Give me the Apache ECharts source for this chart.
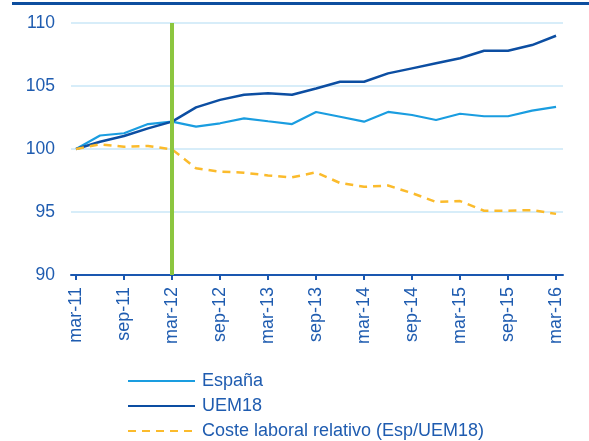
<!DOCTYPE html>
<html>
<head>
<meta charset="utf-8">
<script src="https://cdn.jsdelivr.net/npm/echarts@6/dist/echarts.min.js"></script>
<style>
  html, body { margin: 0; padding: 0; background: #fff; }
  #chart { width: 589px; height: 441px; }
</style>
</head>
<body>
<div id="chart"></div>
<script>
const quarters = [
  "mar-11", "jun-11", "sep-11", "dic-11", "mar-12", "jun-12", "sep-12", "dic-12",
  "mar-13", "jun-13", "sep-13", "dic-13", "mar-14", "jun-14", "sep-14", "dic-14",
  "mar-15", "jun-15", "sep-15", "dic-15", "mar-16",
];
const tickIndexes = [0, 2, 4, 6, 8, 10, 12, 14, 16, 18, 20];

const espana = [
  100, 101.07, 101.25, 101.98, 102.17, 101.77, 102.04, 102.43, 102.2, 101.98,
  102.94, 102.56, 102.17, 102.94, 102.7, 102.3, 102.8, 102.6, 102.6, 103.04, 103.35,
];
const uem18 = [
  100, 100.58, 101.03, 101.64, 102.17, 103.3, 103.9, 104.3, 104.42, 104.3,
  104.8, 105.34, 105.34, 106.0, 106.4, 106.8, 107.2, 107.8, 107.8, 108.25, 108.99,
];
const costeRelativo = [
  100, 100.37, 100.18, 100.24, 99.97, 98.47, 98.2, 98.12, 97.9, 97.75,
  98.15, 97.3, 97.0, 97.1, 96.5, 95.8, 95.87, 95.1, 95.1, 95.15, 94.85,
];
const markerQuarter = 4; // mar-12

const textBlue = "#1f5cb0";
const font = "Liberation Sans, Arial, sans-serif";

const toPairs = (arr) => arr.map((v, i) => [i, v]);

const chart = echarts.init(document.getElementById("chart"));

const options = {
  animation: false,
  textStyle: { fontFamily: font },
  graphic: [
    {
      type: "line",
      shape: { x1: 12, y1: 3.5, x2: 589, y2: 3.5 },
      style: { stroke: "#0d4e9f", lineWidth: 3 },
    },
  ],
  grid: {
    left: 71,
    width: 492,
    top: 23,
    bottom: 166,
    containLabel: false,
  },
  legend: {
    orient: "vertical",
    left: 127,
    top: 372,
    padding: 0,
    itemWidth: 67,
    itemHeight: 17,
    itemGap: 7,
    itemStyle: { opacity: 0 },
    textStyle: { color: textBlue, fontSize: 18, fontFamily: font, padding: [0, 0, 0, 2] },
    data: ["España", "UEM18", "Coste laboral relativo (Esp/UEM18)"],
  },
  xAxis: {
    type: "value",
    min: -0.21,
    max: 20.29,
    splitLine: { show: false },
    axisLine: { lineStyle: { color: "#1a57b0", width: 2 } },
    axisTick: {
      customValues: tickIndexes,
      length: 5,
      lineStyle: { color: "#1a57b0", width: 2 },
    },
    axisLabel: {
      customValues: tickIndexes,
      rotate: 90,
      margin: 12,
      color: textBlue,
      fontSize: 18,
      fontFamily: font,
      formatter: (v) => quarters[v],
    },
  },
  yAxis: {
    type: "value",
    min: 90,
    max: 110,
    interval: 5,
    axisLine: { show: false },
    axisTick: { show: false },
    axisLabel: { color: textBlue, fontSize: 17.5, fontFamily: font, margin: 16 },
    splitLine: { lineStyle: { color: "#d7edf9", width: 2 } },
  },
  series: [
    {
      name: "España",
      type: "line",
      data: toPairs(espana),
      symbol: "none",
      lineStyle: { color: "#1a9de0", width: 2.2 },
      itemStyle: { color: "#1a9de0" },
    },
    {
      name: "UEM18",
      type: "line",
      data: toPairs(uem18),
      symbol: "none",
      lineStyle: { color: "#0c4ea2", width: 2.5 },
      itemStyle: { color: "#0c4ea2" },
    },
    {
      name: "Coste laboral relativo (Esp/UEM18)",
      type: "line",
      data: toPairs(costeRelativo),
      symbol: "none",
      lineStyle: { color: "#fbbb2c", width: 2.5, type: [8, 6] },
      itemStyle: { color: "#fbbb2c" },
      markLine: {
        silent: true,
        symbol: "none",
        label: { show: false },
        lineStyle: { color: "#8cc63f", width: 4, type: "solid" },
        data: [{ xAxis: markerQuarter }],
      },
    },
  ],
};

chart.setOption(options);
</script>
</body>
</html>
